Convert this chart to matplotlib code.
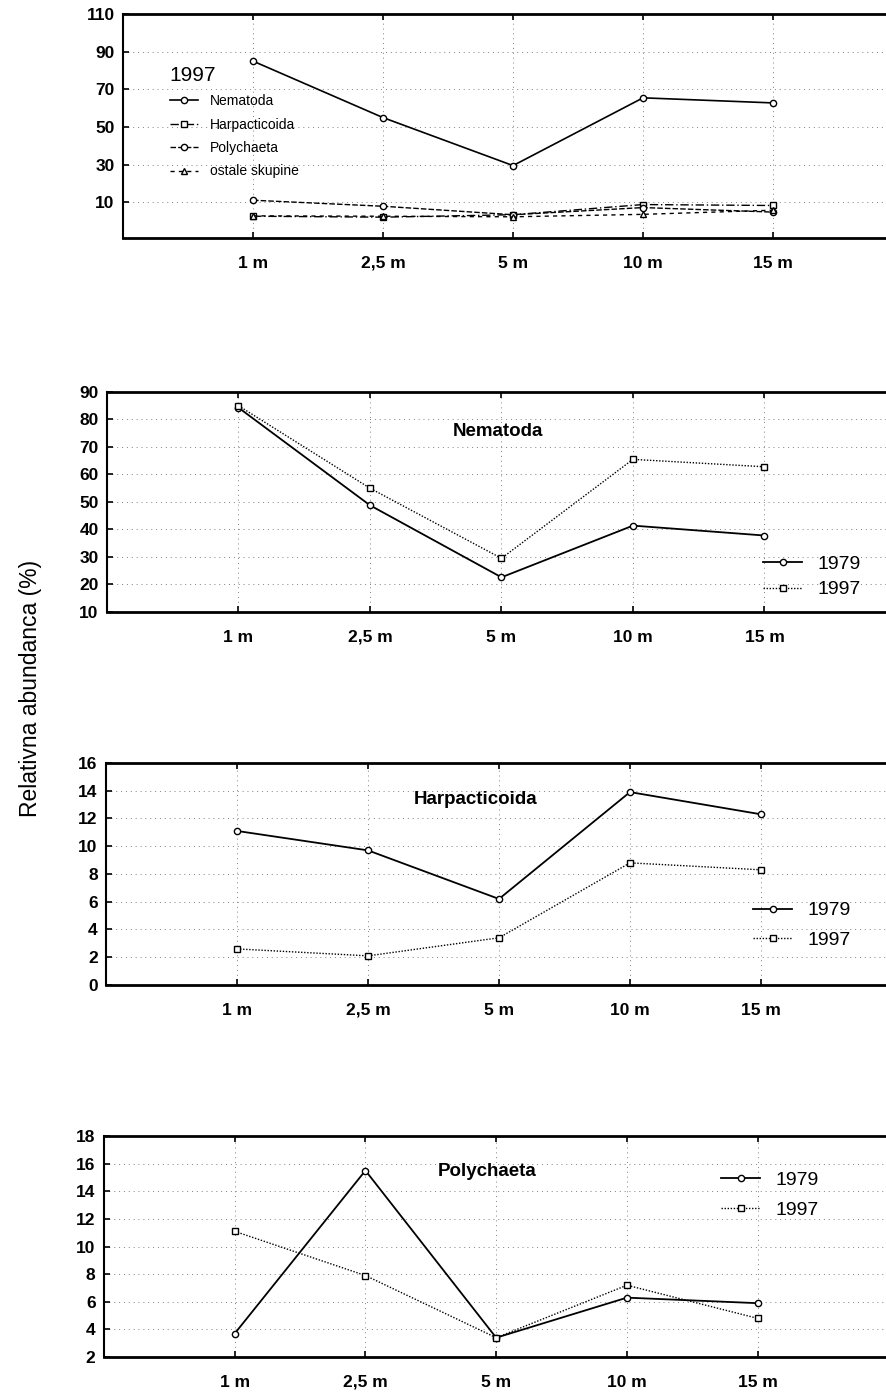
import matplotlib
matplotlib.use("Agg")
import matplotlib.pyplot as plt

plt.rcParams['font.family'] = ['Liberation Sans', 'DejaVu Sans']

depths = ["1 m", "2,5 m", "5 m", "10 m", "15 m"]
xpos = [1, 2, 3, 4, 5]

# panel 1: 1997 composition
nem_1997 = [85.0, 55.0, 29.5, 65.5, 62.8]
harp_1997 = [2.6, 2.1, 3.4, 8.8, 8.3]
poly_1997 = [11.1, 7.9, 3.4, 7.2, 4.8]
ostale_1997 = [2.8, 2.6, 2.3, 3.6, 5.8]

# comparison panels
nem_1979 = [84.3, 48.8, 22.6, 41.4, 37.8]
harp_1979 = [11.1, 9.7, 6.2, 13.9, 12.3]
poly_1979 = [3.7, 15.5, 3.4, 6.3, 5.9]

fig = plt.figure(figsize=(8.87, 13.93), dpi=100)

tick_font = dict(fontsize=12.5, fontweight='bold')


def style_axes(ax, ylim, yticks):
    ax.set_xlim(0, 6)
    ax.set_ylim(*ylim)
    ax.set_yticks(yticks)
    ax.set_xticks(xpos)
    ax.set_xticklabels(depths, va='baseline', **tick_font)
    ax.set_yticklabels([str(t) for t in yticks], **tick_font)
    ax.tick_params(direction='in', length=4, width=1.2, top=True)
    ax.tick_params(axis='x', pad=21.5)
    ax.tick_params(axis='y', pad=6)
    ax.grid(True, linestyle=(0, (1, 4)), color='0.5', linewidth=0.7)
    ax.spines['right'].set_visible(False)
    ax.spines['top'].set_linewidth(2.0)
    ax.spines['bottom'].set_linewidth(2.0)
    ax.spines['left'].set_linewidth(1.5)


mk = dict(markersize=4.5, markerfacecolor='white', markeredgecolor='black', markeredgewidth=1.0)

# ---- panel 1
ax1 = fig.add_axes([0.1387, 0.8291, 0.8794, 0.1608])
ax1.plot(xpos, nem_1997, '-', color='black', lw=1.2, marker='o', label='Nematoda', **mk)
ax1.plot(xpos, harp_1997, color='black', lw=1.0, linestyle=(0, (6, 2, 1, 2)), marker='s', label='Harpacticoida', **mk)
ax1.plot(xpos, poly_1997, color='black', lw=1.0, linestyle=(0, (4, 1.5)), marker='o', label='Polychaeta', **mk)
ax1.plot(xpos, ostale_1997, color='black', lw=1.0, linestyle=(0, (3, 3)), marker='^', label='ostale skupine', **mk)
style_axes(ax1, (-9, 110), [10, 30, 50, 70, 90, 110])
leg = ax1.legend(loc='upper left', bbox_to_anchor=(0.36, 82.6), bbox_transform=ax1.transData,
                 frameon=False, title='1997', fontsize=10, title_fontsize=15,
                 alignment='left', handlelength=2.0, handletextpad=0.9,
                 labelspacing=0.68, borderpad=0, borderaxespad=0)

# ---- comparison panels
panels = [
    ([0.1206, 0.5607, 0.8895, 0.1579], nem_1979, nem_1997, (10, 90), list(range(10, 91, 10)),
     'Nematoda', (2.97, 75.5), (4.99, 30.7), 0.42),
    ([0.1195, 0.2929, 0.8861, 0.1594], harp_1979, harp_1997, (0, 16), list(range(0, 17, 2)),
     'Harpacticoida', (2.82, 13.4), (4.94, 6.0), 0.62),
    ([0.1172, 0.0258, 0.8844, 0.1587], poly_1979, poly_1997, (2, 18), list(range(2, 19, 2)),
     'Polychaeta', (2.93, 15.4), (4.72, 15.45), 0.62),
]

for rect, y79, y97, ylim, yticks, name, tpos, lpos, lsp in panels:
    ax = fig.add_axes(rect)
    ax.plot(xpos, y79, '-', color='black', lw=1.3, marker='o', label='1979', **mk)
    ax.plot(xpos, y97, color='black', lw=1.0, linestyle=(0, (1, 1.2)), marker='s', label='1997', **mk)
    style_axes(ax, ylim, yticks)
    ax.text(tpos[0], tpos[1], name, ha='center', va='center', fontsize=13.5, fontweight='bold')
    ax.legend(loc='upper left', bbox_to_anchor=lpos, bbox_transform=ax.transData,
              frameon=False, fontsize=14, handlelength=2.0, handletextpad=0.8,
              labelspacing=lsp, borderpad=0, borderaxespad=0)

fig.text(0.034, 0.506, 'Relativna abundanca (%)', rotation=90, ha='center', va='center',
         fontsize=16.5)

fig.savefig('out.png', dpi=100)
